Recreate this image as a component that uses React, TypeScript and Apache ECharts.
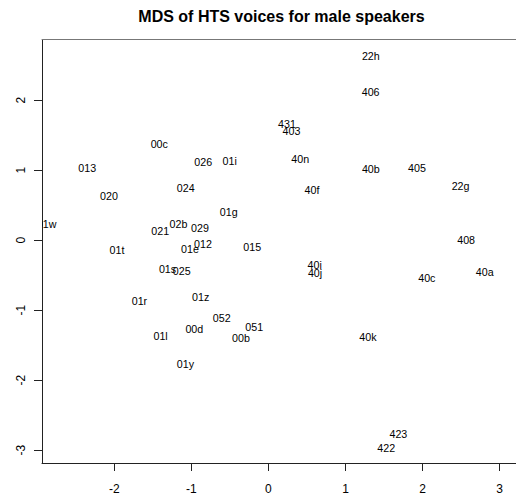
import React, { useEffect, useRef } from "react";
import * as echarts from "echarts";

const titleText = "MDS of HTS voices for male speakers";
const names = ["22h","406","431","403","00c","013","026","01i","40n","40b","405","024","020","22g","40f","01g","01w","021","02b","029","408","01t","01e","012","015","40i","01s","025","40j","40c","40a","01r","01z","052","00d","051","00b","01l","40k","01y","423","422"];
const xs = [1.329,1.326,0.241,0.300,-1.416,-2.351,-0.846,-0.502,0.412,1.329,1.927,-1.072,-2.068,2.493,0.566,-0.515,-2.876,-1.403,-1.167,-0.888,2.565,-1.965,-1.017,-0.849,-0.210,0.601,-1.309,-1.124,0.605,2.055,2.806,-1.673,-0.879,-0.605,-0.961,-0.184,-0.356,-1.399,1.291,-1.077,1.686,1.528];
const ys = [2.631,2.114,1.658,1.563,1.373,1.036,1.117,1.131,1.160,1.021,1.036,0.746,0.637,0.769,0.718,0.399,0.234,0.134,0.224,0.177,-0.004,-0.137,-0.132,-0.061,-0.094,-0.350,-0.407,-0.436,-0.470,-0.536,-0.450,-0.863,-0.806,-1.120,-1.276,-1.248,-1.396,-1.376,-1.390,-1.766,-2.768,-2.972];
const xTicks = [-2, -1, 0, 1, 2, 3];
const yTicks = [-3, -2, -1, 0, 1, 2];

const FONT = "'Liberation Sans', Arial, Helvetica, sans-serif";

export default function App() {
  const ref = useRef<HTMLDivElement>(null);
  useEffect(() => {
    if (!ref.current) return;
    const chart = echarts.init(ref.current, null, { renderer: "svg" });
    const data = names.map((n, i) => [xs[i], ys[i]]);
    chart.setOption({
      animation: false,
      backgroundColor: "#ffffff",
      graphic: [
        {
          type: "text",
          x: 281.5,
          y: 16,
          style: {
            text: titleText,
            font: `bold 16px ${FONT}`,
            fill: "#000",
            align: "center",
            verticalAlign: "middle",
          },
        },
      ],
      grid: { left: 42, top: 39.5, right: -4, bottom: 31, containLabel: false },
      xAxis: [
        {
          type: "value",
          min: -2.937,
          max: 3.212,
          position: "bottom",
          splitLine: { show: false },
          axisLine: { show: true, onZero: false, lineStyle: { color: "#222", width: 1 } },
          axisTick: { show: true, length: 8, customValues: xTicks, lineStyle: { color: "#222" } },
          axisLabel: {
            customValues: xTicks,
            margin: 20,
            fontFamily: FONT,
            fontSize: 12,
            color: "#000",
          },
        },
        {
          type: "value",
          min: -2.937,
          max: 3.212,
          position: "top",
          splitLine: { show: false },
          axisLine: { show: true, onZero: false, lineStyle: { color: "#777", width: 1 } },
          axisTick: { show: false },
          axisLabel: { show: false },
        },
      ],
      yAxis: {
        type: "value",
        min: -3.185,
        max: 2.867,
        splitLine: { show: false },
        axisLine: { show: true, onZero: false, lineStyle: { color: "#222", width: 1 } },
        axisTick: { show: true, length: 8, customValues: yTicks, lineStyle: { color: "#222" } },
        axisLabel: {
          customValues: yTicks,
          rotate: 90,
          margin: 15,
          align: "center",
          verticalAlign: "bottom",
          fontFamily: FONT,
          fontSize: 12,
          color: "#000",
        },
      },
      series: [
        {
          type: "custom",
          clip: true,
          xAxisIndex: 0,
          yAxisIndex: 0,
          data,
          renderItem: (params: any, api: any) => {
            const p = api.coord([api.value(0), api.value(1)]);
            return {
              type: "text",
              x: p[0],
              y: p[1],
              style: {
                text: names[params.dataIndex],
                font: `10.7px ${FONT}`,
                fill: "#000",
                align: "center",
                verticalAlign: "middle",
              },
            };
          },
        },
      ],
    });
    return () => chart.dispose();
  }, []);
  return (
    <div
      ref={ref}
      style={{ position: "fixed", left: 0, top: 0, width: 516, height: 495, background: "#fff" }}
    />
  );
}
